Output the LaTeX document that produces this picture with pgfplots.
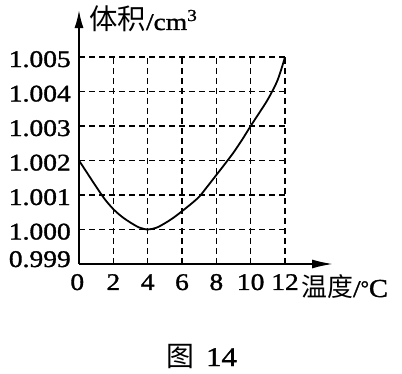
\documentclass[border=0pt]{standalone}
\usepackage{pgfplots}
\pgfplotsset{compat=1.18}
\usetikzlibrary{arrows.meta}
\usepackage{fontspec}
\setmainfont{Liberation Serif}
\newfontfamily\lab{Liberation Serif}[FakeBold=1.2]
\newfontfamily\cjk{Noto Sans CJK SC}
\begin{document}
\begin{tikzpicture}
\useasboundingbox (0,0) rectangle (402bp,374bp);
\begin{axis}[
  at={(79bp,110bp)}, anchor=south west,
  scale only axis, width=206bp, height=207bp,
  xmin=0, xmax=12, ymin=0.999, ymax=1.005,
  axis lines=left,
  axis line style={line width=1.8bp},
  x axis line style={-{Latex[length=21bp,width=9bp]}, shorten >=-48bp},
  y axis line style={-{Latex[length=18bp,width=9bp]}, shorten >=-47bp},
  xtick={0,2,4,6,8,10,12},
  xticklabels={\hspace{-3bp}0,2,4,6,8,10,12},
  ytick={0.999,1.000,1.001,1.002,1.003,1.004,1.005},
  yticklabels={\raisebox{7bp}{0.999}\hspace{7bp},1.000,1.001,1.002,1.003,1.004,1.005},
  major tick length=0pt,
  grid=major,
  major grid style={black, line width=1.1bp, dash pattern=on 6bp off 4bp},
  xticklabel style={font=\lab\fontsize{24}{24}\selectfont, xscale=1.15, anchor=base, inner sep=0pt, yshift=-26bp},
  yticklabel style={font=\lab\fontsize{24}{24}\selectfont, xscale=1.15, anchor=base east, inner sep=0pt, xshift=-7bp, yshift=-10bp},
  /pgf/number format/assume math mode=true,
  clip=false,
]
\addplot[smooth, line width=1.8bp, black] coordinates {
(0,1.002) (0.5,1.00162) (1,1.00124) (1.5,1.00088) (2,1.00059) (2.5,1.00037)
(3,1.0002) (3.5,1.00006) (4,1.0000) (4.5,1.00005) (5,1.00018) (5.5,1.00034)
(6,1.00053) (6.5,1.00073) (7,1.00095) (7.5,1.00126) (8,1.00158) (8.5,1.0019)
(9,1.00223) (9.5,1.0026) (10,1.003) (10.5,1.00338) (11,1.00377) (11.5,1.00425)
(11.75,1.00459) (12,1.005)
};
\end{axis}
\node[anchor=base west, inner sep=0pt] at (89bp,344bp) {\cjk\fontsize{28.5}{28.5}\selectfont 体积\lab\fontsize{24}{24}\selectfont\scalebox{1.15}[1]{/cm\textsuperscript{3}}};
\node[anchor=base west, inner sep=0pt] at (301bp,77bp) {\cjk\fontsize{26}{26}\selectfont 温度\lab\fontsize{24}{24}\selectfont\scalebox{1.15}[1]{/}\fontsize{26}{26}\selectfont\raisebox{2bp}{\scalebox{0.8}{°}}\scalebox{1.1}[1]{C}};
\node[anchor=base west, inner sep=0pt] at (166bp,8bp) {\cjk\fontsize{28}{28}\selectfont 图\hspace{12bp}\lab\fontsize{27}{27}\selectfont\scalebox{1.15}[1]{14}};
\end{tikzpicture}
\end{document}
